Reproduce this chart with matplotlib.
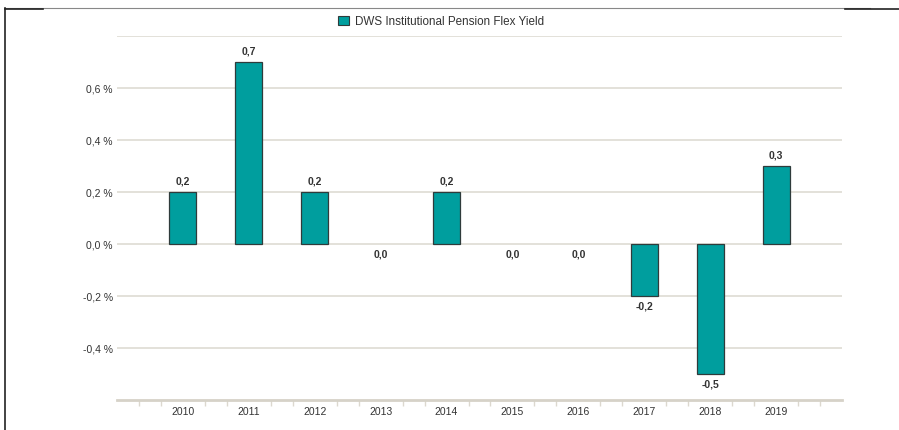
import numpy as np
import matplotlib.pyplot as plt
from matplotlib.lines import Line2D

plt.rcParams['font.family'] = ['Liberation Sans', 'DejaVu Sans']

years = ['2010', '2011', '2012', '2013', '2014', '2015', '2016', '2017', '2018', '2019']
values = [0.2, 0.7, 0.2, 0.0, 0.2, 0.0, 0.0, -0.2, -0.5, 0.3]
yticks = [-0.4, -0.2, 0.0, 0.2, 0.4, 0.6]
series_name = 'DWS Institutional Pension Flex Yield'

teal = '#009E9E'
grid_col = '#dedbd3'
text_col = '#333333'

fig = plt.figure(figsize=(8.99, 4.30), dpi=100)
ax = fig.add_axes([117 / 899, 30 / 430, 725 / 899, 364 / 430])

x = np.arange(len(years))
# zero-height bars get no outline (nothing visible in the original)
lws = [0.9 if v != 0 else 0 for v in values]
ax.bar(x, values, width=0.41, color=teal, edgecolor='#2f3b3b', linewidth=lws, zorder=3)

for xi, v in zip(x, values):
    lab = ('%.1f' % v).replace('.', ',')
    if v > 0:
        ax.annotate(lab, (xi, v), xytext=(0, 4), textcoords='offset points',
                    ha='center', va='bottom', fontsize=7.5, fontweight='bold', color=text_col)
    else:
        ax.annotate(lab, (xi, v), xytext=(0, -4), textcoords='offset points',
                    ha='center', va='top', fontsize=7.5, fontweight='bold', color=text_col)

ax.set_xlim(-1, 10)
ax.set_ylim(-0.6, 0.8)

# gridlines
for g in [-0.4, -0.2, 0.0, 0.2, 0.4, 0.6, 0.8]:
    ax.axhline(g, color=grid_col, linewidth=1.2, zorder=1)

ax.set_yticks(yticks)
ax.set_yticklabels([('%.1f %%' % t).replace('.', ',') for t in yticks])
ax.set_xticks(x)
ax.set_xticklabels(years)
ax.tick_params(axis='both', length=0, labelsize=7.5, colors=text_col, pad=3)
ax.tick_params(axis='x', pad=5)

minor = [k / 3 for k in range(-3, 31) if k % 3 != 0]
ax.set_xticks(minor, minor=True)
ax.tick_params(axis='x', which='minor', length=4, width=1, color='#dcd8cf', direction='out')

for s in ['top', 'right', 'left']:
    ax.spines[s].set_visible(False)
ax.spines['bottom'].set_color('#d6d2c8')
ax.spines['bottom'].set_linewidth(2)

# legend
ax.legend([plt.Rectangle((0, 0), 1, 1, facecolor=teal, edgecolor='#2f3b3b', linewidth=0.8)],
          [series_name], loc='upper center', bbox_to_anchor=(0.447, 1.085), frameon=False,
          fontsize=8.4, handlelength=0.9, handleheight=0.9, handletextpad=0.5,
          labelcolor=text_col)

# screenshot frame
fig.add_artist(Line2D([5 / 899, 870 / 899], [1 - 8 / 430, 1 - 8 / 430], color='#888888', linewidth=0.8))
fig.add_artist(Line2D([5 / 899, 5 / 899], [0, 1 - 8 / 430], color='#222222', linewidth=1.2))
fig.add_artist(Line2D([5 / 899, 43 / 899], [1 - 9 / 430, 1 - 9 / 430], color='#222222', linewidth=1.2))
fig.add_artist(Line2D([845 / 899, 1], [1 - 9 / 430, 1 - 9 / 430], color='#222222', linewidth=1.2))

fig.savefig('out.png', dpi=100)
